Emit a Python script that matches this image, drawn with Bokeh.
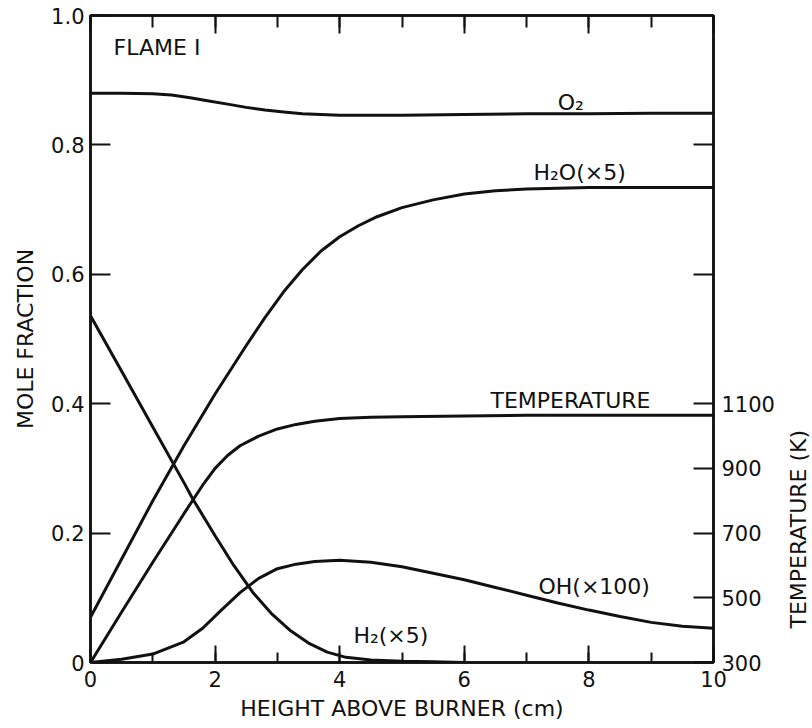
import math
from bokeh.plotting import figure
from bokeh.models import (Range1d, LinearAxis, FixedTicker, SingleIntervalTicker, Label,
                          CustomLabelingPolicy)
from bokeh.embed import file_html
from bokeh.resources import INLINE

# ---------------- data ----------------
o2_x = [0, 0.5, 1.0, 1.3, 1.6, 1.9, 2.2, 2.5, 2.8, 3.1, 3.4, 3.7, 4.0, 5, 6, 7, 8, 9, 10]
o2_y = [0.880, 0.880, 0.879, 0.877, 0.873, 0.868, 0.863, 0.858, 0.854, 0.851, 0.848, 0.847, 0.846,
        0.846, 0.847, 0.848, 0.848, 0.849, 0.849]

h2o_x = [0, 0.5, 1.0, 1.5, 2.0, 2.5, 2.8, 3.1, 3.4, 3.7, 4.0, 4.3, 4.6, 5.0, 5.5, 6, 6.5, 7, 8, 9, 10]
h2o_y = [0.07, 0.16, 0.25, 0.335, 0.415, 0.49, 0.533, 0.573, 0.607, 0.636, 0.658, 0.675, 0.689, 0.703,
         0.715, 0.724, 0.729, 0.732, 0.734, 0.734, 0.734]

h2_x = [0, 0.5, 1.0, 1.5, 1.64, 2.0, 2.3, 2.6, 2.9, 3.2, 3.5, 3.8, 4.1, 4.5, 5.0, 5.5, 6.0]
h2_y = [0.536, 0.450, 0.364, 0.278, 0.253, 0.196, 0.150, 0.109, 0.076, 0.050, 0.030, 0.016, 0.008,
        0.004, 0.002, 0.001, 0.0]

oh_x = [0, 0.5, 1.0, 1.5, 1.8, 2.1, 2.4, 2.7, 3.0, 3.3, 3.6, 4.0, 4.5, 5.0, 5.5, 6.0, 6.5, 7.0, 7.5,
        8.0, 8.5, 9.0, 9.5, 10]
oh_y = [0.0, 0.005, 0.013, 0.032, 0.053, 0.081, 0.108, 0.130, 0.145, 0.152, 0.156, 0.158, 0.155, 0.148,
        0.138, 0.128, 0.116, 0.104, 0.092, 0.081, 0.071, 0.062, 0.056, 0.053]

temp_x = [0, 0.5, 1.0, 1.5, 1.8, 2.0, 2.2, 2.4, 2.7, 3.0, 3.3, 3.6, 4.0, 4.5, 5, 6, 7, 8, 9, 10]
temp_k = [300, 456, 610, 760, 848, 900, 940, 970, 1000, 1022, 1036, 1046, 1054, 1058, 1060, 1062,
          1064, 1064, 1064, 1064]

mole_ticks = [0, 0.2, 0.4, 0.6, 0.8, 1.0]
mole_tick_labels = ["0", "0.2", "0.4", "0.6", "0.8", "1.0"]
temp_ticks = [300, 500, 700, 900, 1100, 1500, 1900]   # last two: unlabelled (0.6 / 0.8 marks)

FONT = "DejaVu Sans"
BLACK = "#111111"

p = figure(width=812, height=728, output_backend="svg", toolbar_location=None,
           x_range=Range1d(0, 10), y_range=Range1d(0, 1),
           min_border_left=90, min_border_right=99, min_border_top=15, min_border_bottom=66)
p.extra_y_ranges = {"temp": Range1d(300, 2300)}
p.xgrid.visible = False
p.ygrid.visible = False
p.outline_line_color = BLACK
p.outline_line_width = 2.5
p.background_fill_color = "white"
p.border_fill_color = "white"


def style_axis(ax):
    ax.axis_line_color = BLACK
    ax.axis_line_width = 2.5
    ax.major_tick_line_color = BLACK
    ax.major_tick_line_width = 2
    ax.minor_tick_line_color = BLACK
    ax.minor_tick_line_width = 2
    ax.major_tick_out = 0
    ax.minor_tick_out = 0
    ax.major_label_text_font = FONT
    ax.major_label_text_font_size = "21px"
    ax.major_label_text_color = BLACK
    ax.axis_label_text_font = FONT
    ax.axis_label_text_font_size = "22px"
    ax.axis_label_text_font_style = "normal"
    ax.axis_label_text_color = BLACK


# bottom axis
xa = p.xaxis[0]
xa.ticker = SingleIntervalTicker(interval=2, num_minor_ticks=2)
style_axis(xa)
xa.major_tick_in = 17
xa.minor_tick_in = 10
xa.major_label_standoff = 8
xa.axis_label = "HEIGHT ABOVE BURNER (cm)"
xa.axis_label_standoff = 6

# top axis (ticks only, labels not drawn)
ta = LinearAxis(ticker=SingleIntervalTicker(interval=2, num_minor_ticks=2))
style_axis(ta)
ta.major_tick_in = 18
ta.minor_tick_in = 12
ta.major_label_text_color = None
ta.major_label_text_alpha = 0
ta.major_label_standoff = 0
p.add_layout(ta, "above")

# left axis
ya = p.yaxis[0]
ya.ticker = FixedTicker(ticks=mole_ticks)
ya.major_label_overrides = {t: s for t, s in zip(mole_ticks, mole_tick_labels)}
style_axis(ya)
ya.major_tick_in = 20
ya.minor_tick_in = 0
ya.major_label_standoff = 6
ya.axis_label = "MOLE FRACTION"
ya.axis_label_standoff = 10

# right axis (temperature)
ra = LinearAxis(y_range_name="temp", ticker=FixedTicker(ticks=temp_ticks))
style_axis(ra)
ra.major_tick_in = 20
ra.minor_tick_in = 0
ra.major_label_standoff = 8
ra.major_label_policy = CustomLabelingPolicy(code="""
    try { for (let i = 5; i < 7; i++) { indices.unset(i) } } catch (e) {}
    return indices
""")
p.add_layout(ra, "right")

# right-hand title, placed in the right panel so it is not clipped to the frame
p.add_layout(Label(x=11.36, y=0.206, text="TEMPERATURE (K)", angle=math.pi / 2,
                   text_font=FONT, text_font_size="22px", text_color=BLACK,
                   text_align="center", text_baseline="middle"), "right")

LW = 3
p.line(o2_x, o2_y, line_color=BLACK, line_width=LW)
p.line(h2o_x, h2o_y, line_color=BLACK, line_width=LW)
p.line(h2_x, h2_y, line_color=BLACK, line_width=LW)
p.line(oh_x, oh_y, line_color=BLACK, line_width=LW)
p.line(temp_x, temp_k, line_color=BLACK, line_width=LW, y_range_name="temp")


def lab(x, y, text, **kw):
    opts = dict(text_font=FONT, text_font_size="22px", text_color=BLACK,
                text_baseline="middle", text_align="left")
    opts.update(kw)
    p.add_layout(Label(x=x, y=y, text=text, **opts))


lab(0.37, 0.950, "FLAME I")
lab(7.5, 0.866, "O₂")
lab(7.11, 0.758, "H₂O(×5)")
lab(6.42, 0.405, "TEMPERATURE")
lab(7.19, 0.117, "OH(×100)")
lab(4.22, 0.042, "H₂(×5)")

open("out.html", "w").write(file_html(p, INLINE))
